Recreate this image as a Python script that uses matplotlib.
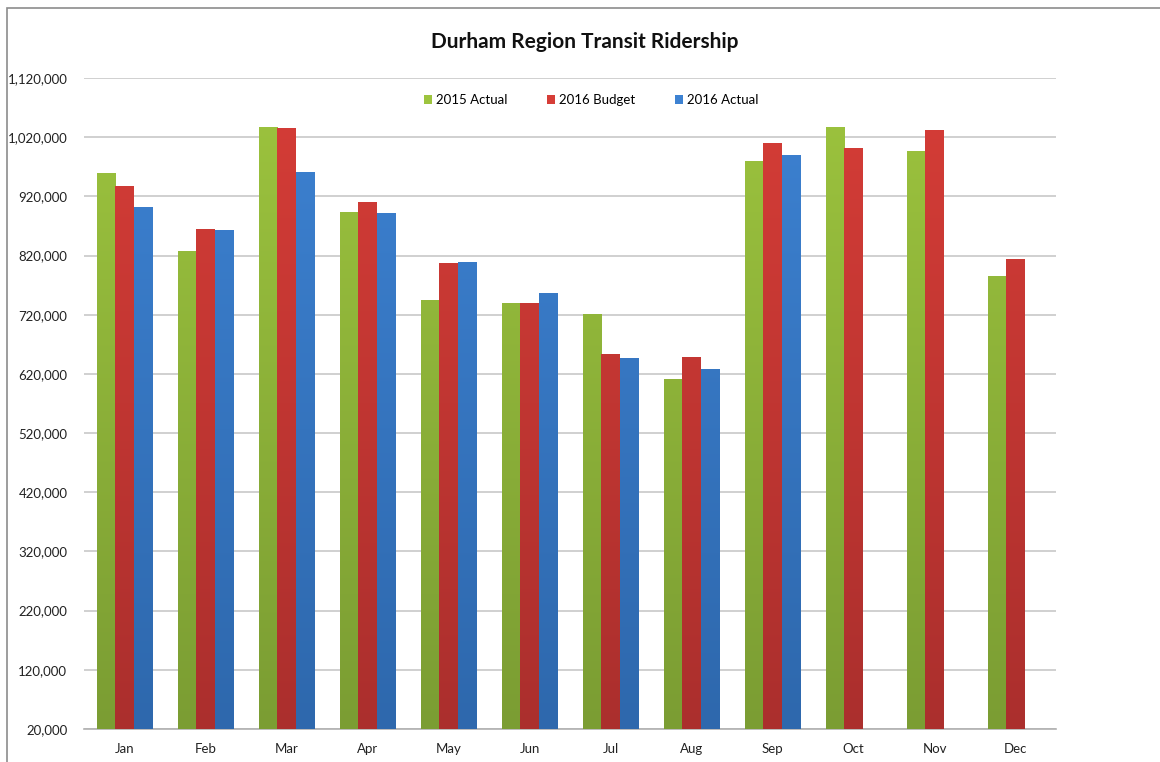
import numpy as np
import matplotlib
matplotlib.use("Agg")
import matplotlib.pyplot as plt
from matplotlib.colors import LinearSegmentedColormap
from matplotlib.patches import Rectangle
from matplotlib.ticker import FuncFormatter

plt.rcParams['font.family'] = ['Lato', 'DejaVu Sans']

months = ["Jan", "Feb", "Mar", "Apr", "May", "Jun", "Jul", "Aug", "Sep", "Oct", "Nov", "Dec"]
actual_2015 = [959000, 828000, 1037000, 894000, 745000, 740000, 721000, 611000, 980000, 1037000, 997000, 785000]
budget_2016 = [938000, 865000, 1035000, 910000, 807000, 740000, 654000, 649000, 1010000, 1002000, 1032000, 814000]
actual_2016 = [902000, 863000, 961000, 892000, 809000, 757000, 647000, 628000, 990000, None, None, None]

series = ["2015 Actual", "2016 Budget", "2016 Actual"]
# (top colour, bottom colour) for the gradient fill
colors = [("#9dc43e", "#7b9d33"), ("#d63d37", "#ab2f2d"), ("#3d82d2", "#2e68ad")]

fig = plt.figure(figsize=(11.6, 7.62), dpi=100)
ax = fig.add_axes([84 / 1160, 1 - 729 / 762, (1056 - 84) / 1160, (729 - 78) / 762])

# frame around the chart
fig.patches.append(Rectangle((7 / 1160, -0.1), 1.2, 1 - 8 / 762 + 0.1, transform=fig.transFigure,
                             fill=False, edgecolor="#8c8c8c", linewidth=1.2, zorder=0))

x = np.arange(len(months))
w = 0.227
ymin, ymax = 20000, 1120000

for i, (name, vals) in enumerate(zip(series, [actual_2015, budget_2016, actual_2016])):
    xs = [xi + (i - 1) * w for xi, v in zip(x, vals) if v is not None]
    hs = [v - ymin for v in vals if v is not None]
    top, bot = colors[i]
    bars = ax.bar(xs, hs, width=w, bottom=ymin, color=top, label=name, zorder=2, linewidth=0)
    cmap = LinearSegmentedColormap.from_list(name, [bot, top])
    grad = np.linspace(0, 1, 256).reshape(-1, 1)
    for b in bars:
        bx = b.get_x()
        im = ax.imshow(grad, cmap=cmap, origin="lower", aspect="auto", zorder=3,
                       extent=[bx, bx + b.get_width(), ymin, ymax])
        im.set_clip_path(b)

ax.set_xlim(-0.5, len(months) - 0.5)
ax.set_ylim(ymin, ymax)
ax.set_yticks(np.arange(ymin, ymax + 1, 100000))
ax.yaxis.set_major_formatter(FuncFormatter(lambda v, p: f"{int(v):,}"))
ax.set_xticks(x)
ax.set_xticklabels(months)
ax.tick_params(axis="both", length=0, labelsize=9.5, colors="#222222")
ax.tick_params(axis="x", pad=10)
ax.tick_params(axis="y", pad=12)
ax.grid(axis="y", color="#c8c8c8", linewidth=1.2, zorder=1)
ax.set_axisbelow(True)
for s in ["left", "right", "top"]:
    ax.spines[s].set_visible(False)
ax.spines["bottom"].set_color("#b0b0b0")
ax.spines["bottom"].set_linewidth(1.2)

leg = ax.legend(loc="center", bbox_to_anchor=(0.522, 1 - 22 / 651), ncol=3, frameon=False,
                fontsize=9.5, handlelength=0.6, handleheight=0.6, handletextpad=0.3,
                columnspacing=3.0)

fig.text(585 / 1160, 1 - 42 / 762, "Durham Region Transit Ridership", ha="center", va="center",
         fontsize=15, fontweight="bold", color="#111111")

fig.savefig("out.png", dpi=100, facecolor="white")
